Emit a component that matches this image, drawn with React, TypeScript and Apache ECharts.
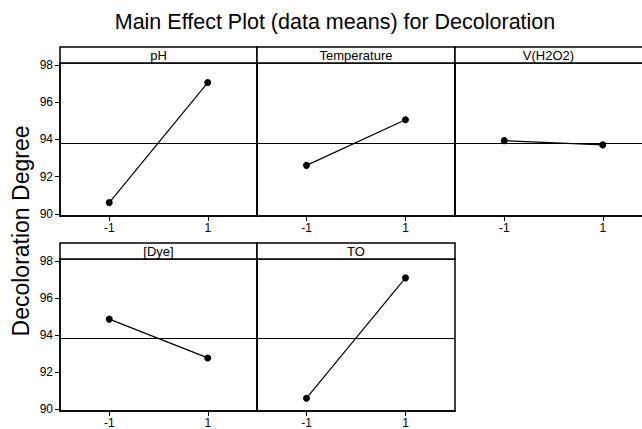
import React, { useEffect, useRef } from "react";
import * as echarts from "echarts";

const factors = ["pH", "Temperature", "V(H2O2)", "[Dye]", "TO"];
const levels = [-1, 1];
const meansPH = [90.6, 97.05];
const meansTemp = [92.6, 95.05];
const meansH2O2 = [93.93, 93.7];
const meansDye = [94.85, 92.75];
const meansTO = [90.57, 97.08];
const grandMean = 93.8;
const yTicks = [90, 92, 94, 96, 98];
const xTicks = [-1, 1];

const seriesValues = [meansPH, meansTemp, meansH2O2, meansDye, meansTO];

const FONT = "'Liberation Sans', Arial, Helvetica, sans-serif";

export default function App() {
  const ref = useRef<HTMLDivElement>(null);
  useEffect(() => {
    if (!ref.current) return;
    const chart = echarts.init(ref.current, null, { renderer: "svg" });
    const panels = [
      { left: 60, top: 63, width: 197, height: 153 },
      { left: 257, top: 63, width: 198, height: 153 },
      { left: 455, top: 63, width: 197, height: 153 },
      { left: 60, top: 259, width: 197, height: 152 },
      { left: 257, top: 259, width: 198, height: 152 },
    ];
    const headerH = 16;
    const grids = panels.map((p) => ({
      left: p.left,
      top: p.top,
      width: p.width,
      height: p.height,
      show: true,
      borderColor: "#000",
      borderWidth: 1.5,
      backgroundColor: "transparent",
      containLabel: false,
    }));
    const xAxes = panels.map((_, i) => ({
      type: "value",
      gridIndex: i,
      min: -2,
      max: 2,
      splitLine: { show: false },
      axisLine: { show: true, onZero: false, lineStyle: { color: "#000", width: 1.5 } },
      axisTick: {
        show: true,
        inside: false,
        length: 5,
        customValues: xTicks,
        lineStyle: { color: "#000", width: 1 },
      },
      axisLabel: {
        show: true,
        customValues: xTicks,
        margin: 6,
        fontSize: 12,
        color: "#000",
        fontFamily: FONT,
      },
    }));
    const yAxes = panels.map((_, i) => {
      const first = i === 0 || i === 3;
      return {
        type: "value",
        gridIndex: i,
        min: 89.88,
        max: 98.1,
        splitLine: { show: false },
        axisLine: { show: true, onZero: false, lineStyle: { color: "#000", width: 1.5 } },
        axisTick: {
          show: first,
          inside: false,
          length: 5,
          customValues: yTicks,
          lineStyle: { color: "#000", width: 1 },
        },
        axisLabel: {
          show: first,
          customValues: yTicks,
          margin: 7,
          fontSize: 12,
          color: "#000",
          fontFamily: FONT,
        },
      };
    });
    const series = seriesValues.map((vals, i) => ({
      type: "line",
      xAxisIndex: i,
      yAxisIndex: i,
      data: levels.map((l, j) => [l, vals[j]]),
      symbol: "circle",
      symbolSize: 7,
      itemStyle: { color: "#000" },
      lineStyle: { color: "#000", width: 1.2 },
      markLine: {
        silent: true,
        symbol: "none",
        label: { show: false },
        lineStyle: { color: "#000", width: 1.2, type: "solid" },
        data: [{ yAxis: grandMean }],
      },
    }));
    const headers: any[] = [];
    panels.forEach((p, i) => {
      headers.push({
        type: "rect",
        shape: { x: p.left, y: p.top - headerH, width: p.width, height: headerH },
        style: { fill: "#fff", stroke: "#000", lineWidth: 1.5 },
      });
      headers.push({
        type: "text",
        x: p.left + p.width / 2 - (i === 2 ? 5 : 0),
        y: p.top - headerH / 2,
        style: {
          text: factors[i],
          fill: "#000",
          font: `13px ${FONT}`,
          textAlign: "center",
          textVerticalAlign: "middle",
        },
      });
    });
    headers.push({
      type: "text",
      x: 335,
      y: 22,
      style: {
        text: "Main Effect Plot (data means) for Decoloration",
        fill: "#000",
        font: `21.5px ${FONT}`,
        textAlign: "center",
        textVerticalAlign: "middle",
      },
    });
    headers.push({
      type: "text",
      x: 21,
      y: 231,
      rotation: Math.PI / 2,
      style: {
        text: "Decoloration Degree",
        fill: "#000",
        font: `23px ${FONT}`,
        textAlign: "center",
        textVerticalAlign: "middle",
      },
    });
    chart.setOption({
      animation: false,
      backgroundColor: "#fff",
      grid: grids,
      xAxis: xAxes,
      yAxis: yAxes,
      series,
      graphic: headers,
    });
    return () => chart.dispose();
  }, []);
  return (
    <div
      style={{
        position: "fixed",
        left: 0,
        top: 0,
        width: 642,
        height: 429,
        overflow: "hidden",
        background: "#fff",
      }}
    >
      <div ref={ref} style={{ width: 670, height: 429 }} />
    </div>
  );
}
